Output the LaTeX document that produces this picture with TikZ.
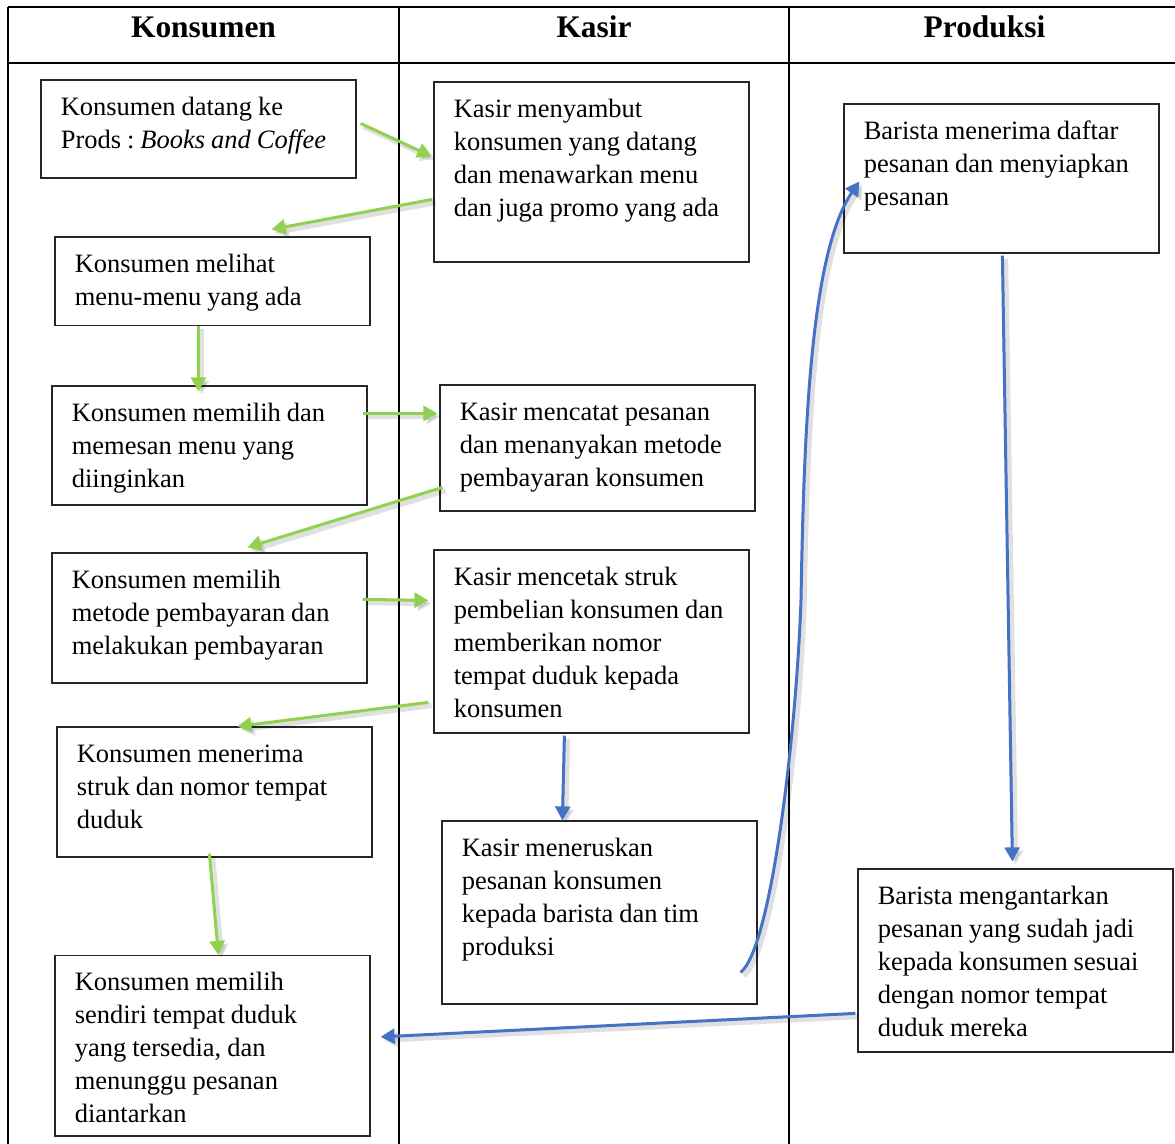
\documentclass[tikz,border=0pt]{standalone}
\usepackage{fontspec}
\setmainfont{Liberation Serif}[ItalicFont={Liberation Serif Italic}, BoldFont={Liberation Serif Bold}]
\usetikzlibrary{arrows.meta,calc}
\definecolor{flowgreen}{RGB}{146,208,80}
\definecolor{flowblue}{RGB}{68,114,196}
\tikzset{
  tbl/.style={line width=1pt, draw=black},
  boxst/.style={draw=black!85, line width=0.6pt, rectangle, inner sep=0pt},
  txt/.style={font=\fontsize{13.25pt}{16.5pt}\selectfont, text width=150pt, align=left, inner sep=0pt, anchor=base west,
    execute at begin node={\frenchspacing\spaceskip=0.225em plus 0.1em minus 0.05em\relax}},
  hdr/.style={font=\fontsize{15.7pt}{18pt}\selectfont\bfseries, inner sep=0pt, anchor=base},
  shadowed/.style={preaction={draw=black, draw opacity=0.12, fill opacity=0.12, line width=2.6pt, transform canvas={shift={(1.6pt,-1.6pt)}}}},
  garrow/.style={draw=flowgreen, fill=flowgreen, line width=1.5pt, -{Triangle[length=7pt,width=7.5pt]}, shadowed},
  barrow/.style={draw=flowblue, fill=none, line width=1.5pt, -{Triangle[length=7pt,width=7.5pt]}, shadowed}
}
\newcommand\flowbox[6]{%
  \node[boxst, minimum width={(#4-#2)*0.5pt}, minimum height={(#5-#3)*0.5pt}] (#1) at ({(#2+#4)/2},{(#3+#5)/2}) {};
  \node[txt] (#1t) at ($(#1.north west)+(20,36)$) {#6};
}
\begin{document}
\begin{tikzpicture}[x=0.5pt,y=-0.5pt]
\useasboundingbox (0,0) rectangle (1175,1144);
\begin{scope}
  \clip (0,0) rectangle (1175,1144);
  \draw[tbl] (8,7.5) -- (1190,7.5);
  \draw[tbl] (8,63) -- (1190,63);
  \draw[tbl] (8,7.5) -- (8,1160);
  \draw[tbl] (399,7.5) -- (399,1160);
  \draw[tbl] (788.5,7.5) -- (788.5,1160);
\end{scope}
\node[hdr] (h1) at (203.5,37.5) {Konsumen};
\node[hdr] (h2) at (594,37.5) {Kasir};
\node[hdr] (h3) at (984.5,37.5) {Produksi};

\flowbox{k1}{41}{80}{356}{178}{Konsumen datang ke\\Prods : \textit{Books and Coffee}}
\flowbox{s1}{434}{82}{749}{262}{Kasir menyambut\\konsumen yang datang\\dan menawarkan menu\\dan juga promo yang ada}
\flowbox{k2}{55}{237}{370}{325.5}{Konsumen melihat\\menu-menu yang ada}
\flowbox{p1}{844}{104}{1159}{253}{Barista menerima daftar\\pesanan dan menyiapkan\\pesanan}
\flowbox{k3}{52}{386}{367}{505}{Konsumen memilih dan\\memesan menu yang\\diinginkan}
\flowbox{s2}{440}{385}{755}{511}{Kasir mencatat pesanan\\dan menanyakan metode\\pembayaran konsumen}
\flowbox{k4}{52}{553}{367}{683}{Konsumen memilih\\metode pembayaran dan\\melakukan pembayaran}
\flowbox{s3}{434}{550}{749}{733}{Kasir mencetak struk\\pembelian konsumen dan\\memberikan nomor\\tempat duduk kepada\\konsumen}
\flowbox{k5}{57}{727}{372}{857}{Konsumen menerima\\struk dan nomor tempat\\duduk}
\flowbox{s4}{442}{821}{757}{1004}{Kasir meneruskan\\pesanan konsumen\\kepada barista dan tim\\produksi}
\flowbox{p2}{858}{869}{1173}{1052}{Barista mengantarkan\\pesanan yang sudah jadi\\kepada konsumen sesuai\\dengan nomor tempat\\duduk mereka}
\flowbox{k6}{55}{955.5}{370}{1136}{Konsumen memilih\\sendiri tempat duduk\\yang tersedia, dan\\menunggu pesanan\\diantarkan}

% green connectors
\draw[garrow] ($(k1.north east)+(4,44)$) -- ($(s1.north west)+(-2,75)$);
\draw[garrow] ($(s1.north west)+(-1,118)$) -- ($(k2.north west)+(217,-7)$);
\draw[garrow] ($(k2.south west)+(144,0)$) -- ($(k3.north west)+(147,6)$);
\draw[garrow] ($(k3.north east)+(-5,28)$) -- ($(s2.north west)+(-2,29)$);
\draw[garrow] ($(s2.north west)+(3,103)$) -- ($(k4.north west)+(196,-5)$);
\draw[garrow] ($(k4.north east)+(-5,47)$) -- ($(s3.north west)+(-5,51)$);
\draw[garrow] ($(s3.north west)+(-5,153)$) -- ($(k5.north west)+(181,0)$);
\draw[garrow] ($(k5.south west)+(153,-4)$) -- ($(k6.north west)+(164,0)$);

% blue connectors
\coordinate (bmid) at (801,600);
\draw[barrow] ($(s3.south west)+(131,2)$) -- ($(s4.north west)+(121,0)$);
\draw[barrow] ($(s4.north east)+(-17,152)$) .. controls ($(s4.north east)+(13,129)$) and ($(bmid)+(-5,140)$) .. (bmid)
  .. controls ($(bmid)+(3,-170)$) and ($(p1.north west)+(-33,150)$) .. ($(p1.north west)+(16,78)$);
\draw[barrow] ($(p1.south west)+(159,2)$) -- ($(p2.north west)+(155,-7)$);
\draw[barrow] ($(p2.north west)+(-2,145)$) -- ($(k6.north east)+(10,82)$);
\end{tikzpicture}
\end{document}
